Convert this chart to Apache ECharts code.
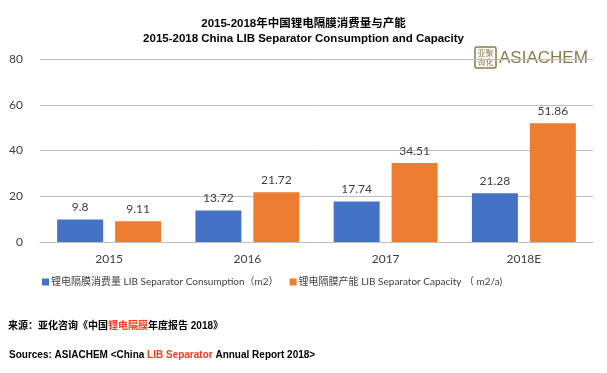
<!DOCTYPE html>
<html><head><meta charset="utf-8">
<script src="https://cdn.jsdelivr.net/npm/echarts@6/dist/echarts.min.js"></script>
<style>html,body{margin:0;padding:0;background:#fff}#c{width:607px;height:373px}</style>
</head><body><div id="c"></div>
<script>
const categories = ['2015', '2016', '2017', '2018E'];
const consumption = [9.8, 13.72, 17.74, 21.28];
const capacity = [9.11, 21.72, 34.51, 51.86];
const yTicks = [0, 20, 40, 60, 80];
const seriesNames = ['锂电隔膜消费量 LIB Separator Consumption（m2）', '锂电隔膜产能 LIB Separator Capacity （ m2/a)'];

const chart = echarts.init(document.getElementById('c'), null, {renderer: 'canvas'});
const F = '"Liberation Sans", Arial, "Noto Sans CJK SC", sans-serif';
const C = 'Lato, "Noto Sans CJK SC", sans-serif';
const lbl = {show: true, position: 'top', distance: 6, color: '#404040', fontSize: 12, fontFamily: C};
chart.setOption({
  animation: false,
  title: [
    {text: '2015-2018年中国锂电隔膜消费量与产能', left: 'center', top: 13,
     textStyle: {fontSize: 11.5, fontWeight: 'bold', color: '#000', fontFamily: F}},
    {text: '2015-2018 China LIB Separator Consumption and Capacity', left: 'center', top: 28,
     textStyle: {fontSize: 11.5, fontWeight: 'bold', color: '#000', fontFamily: F}}
  ],
  grid: {left: 40, right: 14, top: 59, bottom: 131, containLabel: false},
  legend: {
    data: seriesNames, left: 37, top: 272, itemWidth: 7, itemHeight: 7, itemGap: 11,
    icon: 'rect', textStyle: {fontSize: 10, color: '#404040', fontFamily: C, padding: [0,0,0,-3]}
  },
  xAxis: {
    type: 'category', data: categories,
    axisLine: {lineStyle: {color: '#bfbfbf'}}, axisTick: {show: false},
    axisLabel: {color: '#404040', fontSize: 12, margin: 11, fontFamily: C}
  },
  yAxis: {
    type: 'value', min: yTicks[0], max: yTicks[yTicks.length-1], interval: 20,
    axisLine: {show: false}, axisTick: {show: false},
    axisLabel: {color: '#404040', fontSize: 12, margin: 17, fontFamily: C},
    splitLine: {lineStyle: {color: '#bfbfbf'}}
  },
  series: [
    {name: seriesNames[0], type: 'bar', data: consumption, barWidth: 46, barGap: '26%',
     itemStyle: {color: '#4472C4'}, label: lbl},
    {name: seriesNames[1], type: 'bar', data: capacity, barWidth: 46,
     itemStyle: {color: '#ED7D31'}, label: lbl}
  ],
  graphic: [
    {type: 'rect', shape: {x: 472, y: 44, width: 130, height: 28}, style: {fill: '#fff'}},
    {type: 'rect', shape: {x: 475, y: 47, width: 21, height: 21, r: 2}, style: {fill: '#fff', stroke: '#8c7a4b', lineWidth: 1.5}},
    {type: 'text', style: {text: '亚聚\n询化', x: 485.5, y: 57.5, align: 'center', verticalAlign: 'middle', fontSize: 8, lineHeight: 9, fill: '#8c7a4b', fontFamily: '"Noto Sans CJK SC"'}},
    {type: 'text', style: {text: 'ASIACHEM', x: 499, y: 58, verticalAlign: 'middle', fontSize: 17, fill: '#8c7a4b', fontFamily: '"Liberation Sans", Arial'}},
    {type: 'text', style: {text: '®', x: 584, y: 50, fontSize: 5, fill: '#8c7a4b'}},
    {type: 'text', style: {
      x: 8, y: 326, verticalAlign: 'middle',
      text: '{b|来源：亚化咨询《中国}{r|锂电隔膜}{b|年度报告 2018》}',
      rich: {b: {fontSize: 10, fontWeight: 'bold', fill: '#000', fontFamily: F}, r: {fontSize: 10, fontWeight: 'bold', fill: '#f03c1e', fontFamily: F}}
    }},
    {type: 'text', style: {
      x: 9, y: 355, verticalAlign: 'middle',
      text: '{b|Sources: ASIACHEM <China }{r|LIB Separator}{b| Annual Report 2018>}',
      rich: {b: {fontSize: 10, fontWeight: 'bold', fill: '#000', fontFamily: F}, r: {fontSize: 10, fontWeight: 'bold', fill: '#f03c1e', fontFamily: F}}
    }}
  ]
});
</script></body></html>
